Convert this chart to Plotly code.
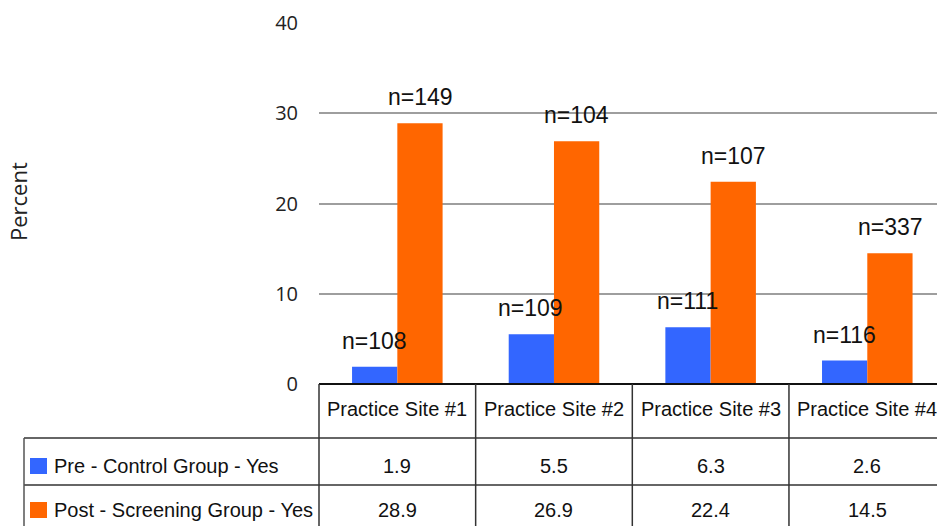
import plotly.graph_objects as go

# Data
sites = ["Practice Site #1", "Practice Site #2", "Practice Site #3", "Practice Site #4"]
pre_control = [1.9, 5.5, 6.3, 2.6]
post_screening = [28.9, 26.9, 22.4, 14.5]
pre_n = ["n=108", "n=109", "n=111", "n=116"]
post_n = ["n=149", "n=104", "n=107", "n=337"]
series_names = ["Pre - Control Group - Yes", "Post - Screening Group - Yes"]
series_colors = ["#3366FF", "#FF6600"]
y_ticks = [0, 10, 20, 30, 40]

W, H = 937, 526
L, T, B = 319, 23, 384          # plot area edges in pixels
X_RANGE = [-0.5, 3.445]


def px_x(p):
    return (p - L) / (W - L)


def px_y(p):
    return (B - p) / (B - T)


idx = list(range(len(sites)))
fig = go.Figure()
for vals, name, col in zip([pre_control, post_screening], series_names, series_colors):
    fig.add_trace(go.Bar(x=idx, y=vals, name=name, marker=dict(color=col, line=dict(width=0)),
                         showlegend=False))

label_font = dict(family="Liberation Sans, Arial, sans-serif", size=23, color="#111111")
for i in idx:
    for vals, labels, shift in [(pre_control, pre_n, -23), (post_screening, post_n, 23)]:
        fig.add_annotation(x=i, y=vals[i], xref="x", yref="y", text=labels[i], showarrow=False,
                           xshift=shift, yshift=26, yanchor="middle", xanchor="center",
                           font=label_font)

# Data table beneath the axis
table_font = dict(family="Liberation Sans, Arial, sans-serif", size=20, color="#111111")
rows_y = [409, 466, 510]
for i in idx:
    fig.add_annotation(x=i, y=px_y(rows_y[0]), xref="x", yref="paper", text=sites[i],
                       showarrow=False, font=table_font, yanchor="middle")
    fig.add_annotation(x=i, y=px_y(rows_y[1]), xref="x", yref="paper", text=f"{pre_control[i]}",
                       showarrow=False, font=table_font, yanchor="middle")
    fig.add_annotation(x=i, y=px_y(rows_y[2]), xref="x", yref="paper", text=f"{post_screening[i]}",
                       showarrow=False, font=table_font, yanchor="middle")

for k, (name, col) in enumerate(zip(series_names, series_colors)):
    cy = rows_y[k + 1]
    fig.add_shape(type="rect", xref="paper", yref="paper",
                  x0=px_x(30), x1=px_x(47), y0=px_y(cy - 8), y1=px_y(cy + 8),
                  fillcolor=col, line=dict(width=0))
    fig.add_annotation(x=px_x(52), y=px_y(cy), xref="paper", yref="paper", text=name,
                       showarrow=False, xanchor="left", yanchor="middle", font=table_font)


# Table grid
def xcat(v):
    return (v - X_RANGE[0]) / (X_RANGE[1] - X_RANGE[0])


grid = []
grid.append(dict(x0=0, x1=1, y0=px_y(384), y1=px_y(384), color="#111111", width=2))
grid.append(dict(x0=px_x(24), x1=1, y0=px_y(438), y1=px_y(438), color="#666666", width=2))
grid.append(dict(x0=px_x(24), x1=1, y0=px_y(485), y1=px_y(485), color="#333333", width=1.5))
grid.append(dict(x0=px_x(24), x1=px_x(24), y0=px_y(438), y1=px_y(530), color="#555555", width=1.5))
for i in range(len(sites)):
    xv = xcat(i - 0.5)
    grid.append(dict(x0=xv, x1=xv, y0=px_y(384), y1=px_y(530), color="#333333", width=1.5))
for g in grid:
    fig.add_shape(type="line", xref="paper", yref="paper", x0=g["x0"], x1=g["x1"],
                  y0=g["y0"], y1=g["y1"], line=dict(color=g["color"], width=g["width"]))

fig.add_annotation(x=px_x(18), y=px_y(202), xref="paper", yref="paper", text="Percent",
                   textangle=-90, showarrow=False, xanchor="center", yanchor="middle",
                   font=dict(family="Open Sans, Noto Sans, sans-serif", size=22, color="#222222"))

fig.update_layout(
    width=W, height=H,
    margin=dict(l=L, r=0, t=T, b=H - B, pad=0),
    paper_bgcolor="white", plot_bgcolor="white",
    barmode="group", bargap=0.422, bargroupgap=0,
    xaxis=dict(range=X_RANGE, showticklabels=False, showgrid=False, zeroline=False,
               showline=False, ticks=""),
    yaxis=dict(range=[0, 40], tickvals=y_ticks, showgrid=True, gridcolor="#9E9E9E", gridwidth=1.5,
               zeroline=False, showline=False, ticks="", ticklabelstandoff=20,
               tickfont=dict(family="Open Sans, Noto Sans, sans-serif", size=20, color="#222222")),
)

fig.write_html("out.html")
